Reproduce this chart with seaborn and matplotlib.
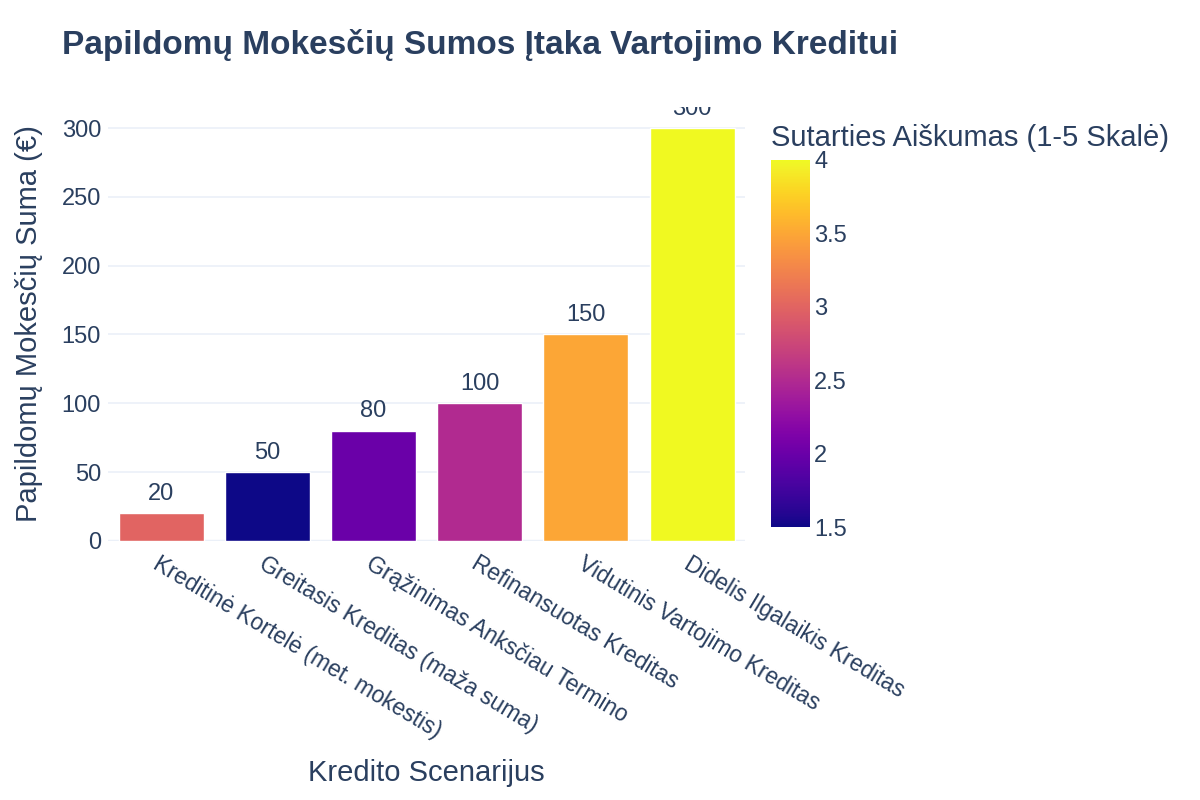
import numpy as np
import pandas as pd
import seaborn as sns
import matplotlib.pyplot as plt
from matplotlib import cm, colors

scenarijai = [
    'Kreditinė Kortelė (met. mokestis)',
    'Greitasis Kreditas (maža suma)',
    'Grąžinimas Anksčiau Termino',
    'Refinansuotas Kreditas',
    'Vidutinis Vartojimo Kreditas',
    'Didelis Ilgalaikis Kreditas',
]
mokesciai = [20, 50, 80, 100, 150, 300]
aiskumas = [3.0, 1.5, 2.0, 2.5, 3.5, 4.0]

df = pd.DataFrame({'scenarijus': scenarijai, 'suma': mokesciai, 'aiskumas': aiskumas})

sns.set_theme(style='white')
plt.rcParams['font.family'] = ['Liberation Sans', 'DejaVu Sans']
txt = '#2a3f5f'
grid = '#ebf0f8'

fig = plt.figure(figsize=(12, 8), dpi=100)
ax = fig.add_axes([0.09, 0.324, 0.531, 0.542])

norm = colors.Normalize(vmin=1.5, vmax=4)
sns.barplot(data=df, x='scenarijus', y='suma', hue='aiskumas', palette='plasma',
            hue_norm=norm, dodge=False, legend=False, width=0.8, saturation=1,
            ax=ax, zorder=3)

ax.set_ylim(0, 315.2)
ax.set_yticks([0, 50, 100, 150, 200, 250, 300])
ax.grid(axis='y', color=grid, linewidth=1.2, zorder=0)
ax.axhline(0, color=grid, linewidth=2.5, zorder=1)
for s in ax.spines.values():
    s.set_visible(False)
ax.tick_params(axis='both', length=0, labelsize=17, labelcolor=txt)
ax.tick_params(axis='y', pad=5)
ax.tick_params(axis='x', pad=8, labelsize=16.5)
plt.setp(ax.get_xticklabels(), rotation=-31, ha='left', rotation_mode='anchor')

# reikšmės virš stulpelių, nukerpamos ties grafiko kraštu
for c in ax.containers:
    ax.bar_label(c, fmt='%g', padding=6, fontsize=17, color=txt, clip_on=True)

ax.set_ylabel('Papildomų Mokesčių Suma (€)', fontsize=21, color=txt)
ax.yaxis.set_label_coords(-0.102, 0.5)
ax.set_xlabel('Kredito Scenarijus', fontsize=21, color=txt, va='center')
ax.xaxis.set_label_coords(0.5, -0.535)

fig.text(0.052, 0.944, 'Papildomų Mokesčių Sumos Įtaka Vartojimo Kreditui',
         fontsize=24, fontweight='bold', color=txt, va='center')

# spalvų skalė
cax = fig.add_axes([0.6425, 0.341, 0.0325, 0.459])
sm = cm.ScalarMappable(norm=norm, cmap='plasma')
cb = fig.colorbar(sm, cax=cax, ticks=[1.5, 2, 2.5, 3, 3.5, 4], format='%g')
cb.outline.set_visible(False)
cax.tick_params(length=0, labelsize=17, labelcolor=txt, pad=3)
fig.text(0.6425, 0.8275, 'Sutarties Aiškumas (1-5 Skalė)', fontsize=21,
         color=txt, va='center')

plt.savefig('out.png', dpi=100)
